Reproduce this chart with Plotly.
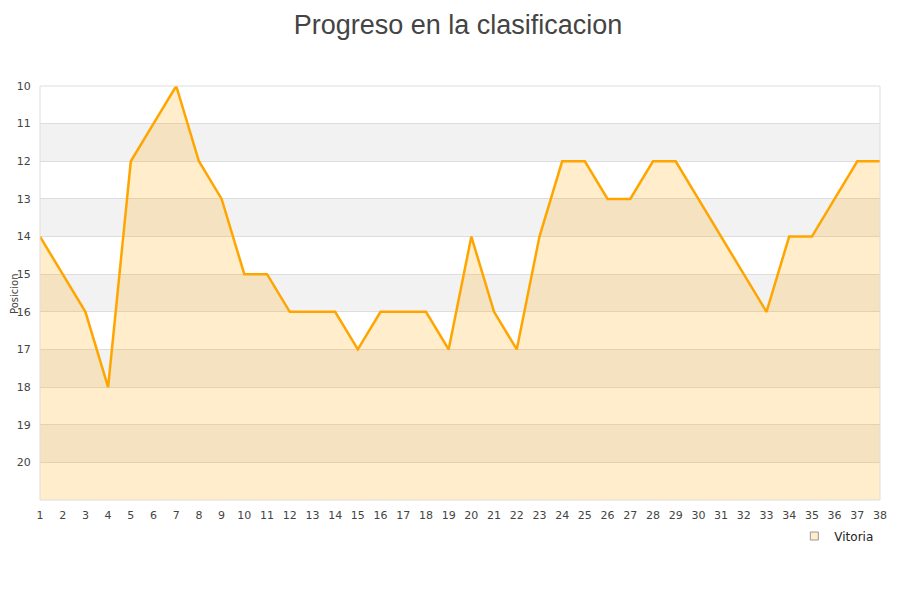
import plotly.graph_objects as go

jornadas = list(range(1, 39))
posiciones = [14, 15, 16, 18, 12, 11, 10, 12, 13, 15, 15, 16, 16, 16, 17, 16, 16, 16, 17, 14,
              16, 17, 14, 12, 12, 13, 13, 12, 12, 13, 14, 15, 16, 14, 14, 13, 12, 12]
y_ticks = list(range(10, 21))
equipo = "Vitoria"
titulo = "Progreso en la clasificacion"
fondo = 21

fig = go.Figure()
fig.add_trace(go.Scatter(x=jornadas, y=[fondo] * len(jornadas), mode="lines",
                         line=dict(width=0), showlegend=False, hoverinfo="skip"))
fig.add_trace(go.Scatter(x=jornadas, y=posiciones, mode="lines", name=equipo,
                         fill="tonexty", fillcolor="rgba(255,165,0,0.2)",
                         line=dict(color="#FFA500", width=2.5), showlegend=False))
fig.add_trace(go.Scatter(x=[None], y=[None], mode="markers", name=equipo,
                         marker=dict(symbol="square", size=8, color="#FFEDCC",
                                     line=dict(color="#999999", width=1))))

shapes = []
for k in range(11, 21, 2):
    shapes.append(dict(type="rect", xref="paper", yref="y", x0=0, x1=1, y0=k, y1=k + 1,
                       fillcolor="#f2f2f2", line=dict(width=0), layer="below"))
shapes.append(dict(type="rect", xref="paper", yref="paper", x0=0, x1=1, y0=0, y1=1,
                   line=dict(color="#dddddd", width=1), layer="above"))

fig.update_layout(
    width=900, height=600,
    paper_bgcolor="white", plot_bgcolor="white",
    margin=dict(l=32, r=28, t=78, b=108, autoexpand=False),
    title=dict(text=titulo, x=0.5, xanchor="center", y=0.988, yanchor="top",
               pad=dict(t=0, b=0),
               font=dict(family="Liberation Sans, Arial", size=27, color="#444444")),
    font=dict(family="DejaVu Sans", size=11, color="#444444"),
    shapes=shapes,
    showlegend=True,
    legend=dict(x=0.898, y=-0.087, xanchor="left", yanchor="middle",
                bgcolor="rgba(255,255,255,0)", font=dict(size=12, color="#222222"),
                itemwidth=30),
    xaxis=dict(range=[1, 38], tickmode="array", tickvals=jornadas, showgrid=False,
               zeroline=False, showline=False, ticks="outside", ticklen=5,
               tickcolor="rgba(0,0,0,0)", automargin=False,
               tickfont=dict(size=11, color="#444444")),
    yaxis=dict(range=[21, 10], tickmode="array", tickvals=y_ticks, showgrid=True,
               gridcolor="#dddddd", zeroline=False, showline=False, ticks="outside",
               ticklen=6, tickcolor="rgba(0,0,0,0)", automargin=False,
               tickfont=dict(size=11, color="#444444")),
)
fig.add_annotation(text="Posicion", xref="paper", yref="paper", x=-0.031, y=0.5,
                   xanchor="center", yanchor="middle", textangle=-90, showarrow=False,
                   borderpad=0, font=dict(size=10, color="#444444"))

fig.write_html("out.html")
